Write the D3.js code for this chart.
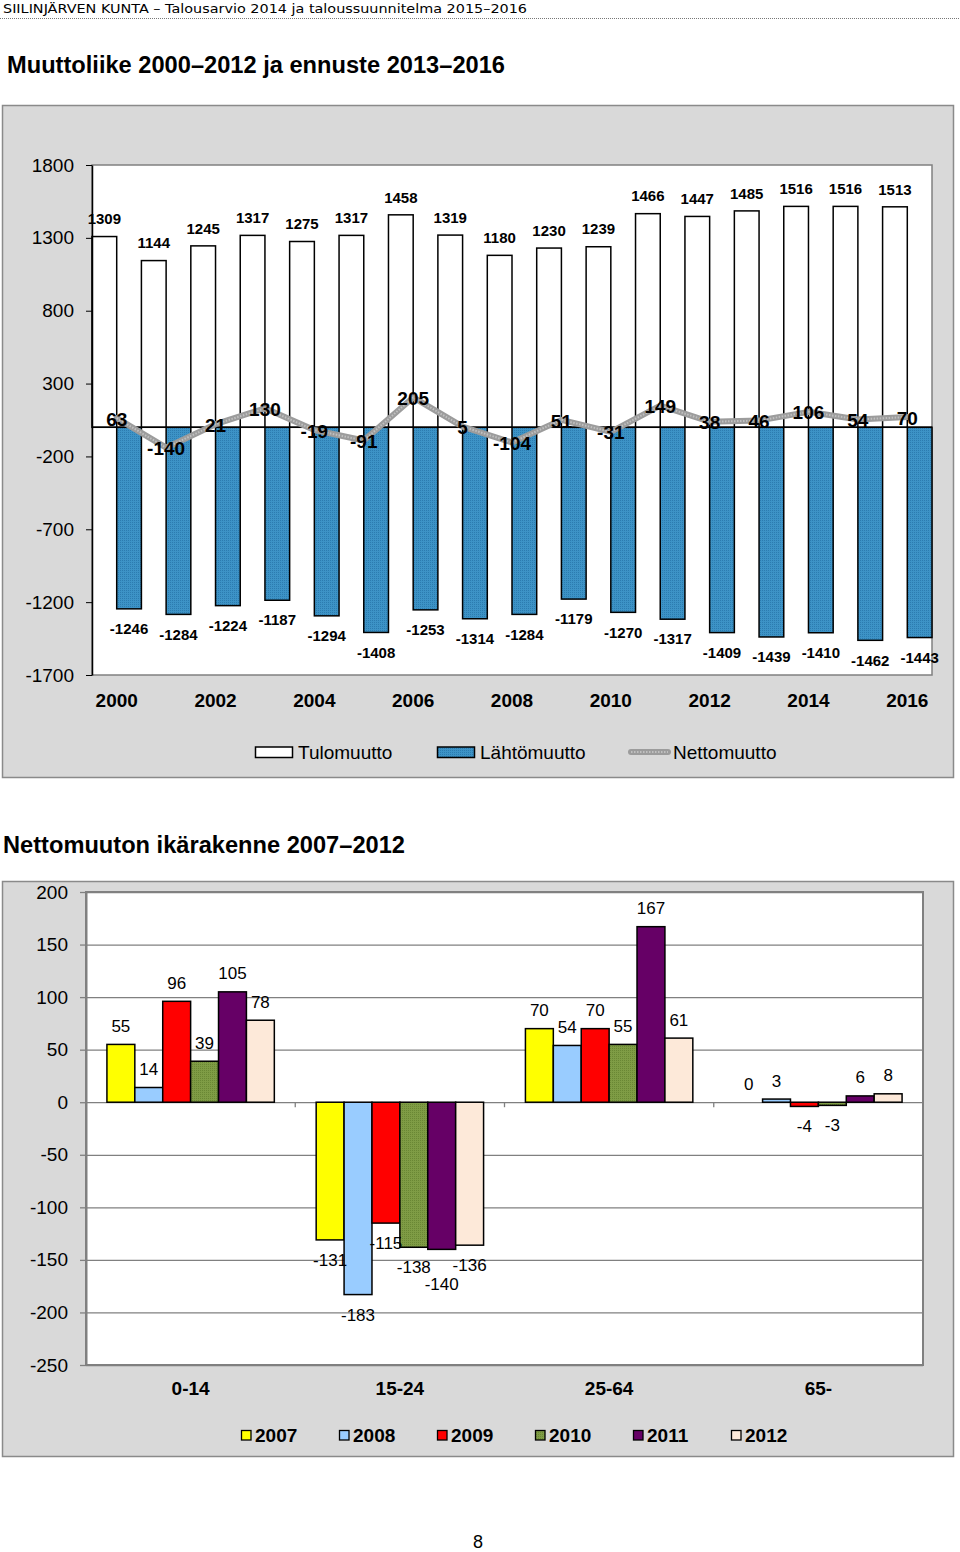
<!DOCTYPE html>
<html><head><meta charset="utf-8">
<script src="https://cdn.jsdelivr.net/npm/d3@7"></script>
<style>
html,body{margin:0;padding:0;background:#fff;}
svg{display:block;}
text{font-family:"Liberation Sans",Arial,sans-serif;fill:#000;}
</style>
</head><body>
<svg id="c" width="960" height="1552"></svg>
<script>
// ---------- data: chart 1 ----------
const years = ["2000","2001","2002","2003","2004","2005","2006","2007","2008","2009","2010","2011","2012","2013","2014","2015","2016"];
const tulomuutto = [1309,1144,1245,1317,1275,1317,1458,1319,1180,1230,1239,1466,1447,1485,1516,1516,1513];
const lahtomuutto = [-1246,-1284,-1224,-1187,-1294,-1408,-1253,-1314,-1284,-1179,-1270,-1317,-1409,-1439,-1410,-1462,-1443];
const nettomuutto = [63,-140,21,130,-19,-91,205,5,-104,51,-31,149,38,46,106,54,70];
const yTicks1 = [1800,1300,800,300,-200,-700,-1200,-1700];
const xLabels1 = ["2000","2002","2004","2006","2008","2010","2012","2014","2016"];
const legend1 = ["Tulomuutto","Lähtömuutto","Nettomuutto"];

// ---------- data: chart 2 ----------
const ageGroups = ["0-14","15-24","25-64","65-"];
const years2 = ["2007","2008","2009","2010","2011","2012"];
const v2007 = [55,-131,70,0];
const v2008 = [14,-183,54,3];
const v2009 = [96,-115,70,-4];
const v2010 = [39,-138,55,-3];
const v2011 = [105,-140,167,6];
const v2012 = [78,-136,61,8];
const yTicks2 = [200,150,100,50,0,-50,-100,-150,-200,-250];

const series2 = [v2007,v2008,v2009,v2010,v2011,v2012];
const colors2 = ["#ffff00","#99ccff","#ff0000","url(#greenTex)","#660066","#fde9d9"];
const fmt = (d)=>String(d);

const svg = d3.select("#c");
const defs = svg.append("defs");
const pb = defs.append("pattern").attr("id","blueTex").attr("width",2).attr("height",2).attr("patternUnits","userSpaceOnUse");
pb.append("rect").attr("width",2).attr("height",2).attr("fill","#3d93c6");
pb.append("rect").attr("width",1).attr("height",1).attr("fill","#2c7cb0");
const pg = defs.append("pattern").attr("id","greenTex").attr("width",2).attr("height",2).attr("patternUnits","userSpaceOnUse");
pg.append("rect").attr("width",2).attr("height",2).attr("fill","#7f9c45");
pg.append("rect").attr("width",1).attr("height",1).attr("fill","#6a8734");

svg.append("rect").attr("width",960).attr("height",1552).attr("fill","#fff");

// header
svg.append("text").attr("x",3).attr("y",13).style("font-family","'DejaVu Sans',sans-serif")
  .attr("font-size",13).attr("textLength",524).attr("lengthAdjust","spacingAndGlyphs")
  .text("SIILINJÄRVEN KUNTA – Talousarvio 2014 ja taloussuunnitelma 2015–2016");
svg.append("line").attr("x1",0).attr("x2",960).attr("y1",18.5).attr("y2",18.5)
  .attr("stroke","#777").attr("stroke-dasharray","1,1");

svg.append("text").attr("x",7).attr("y",73).attr("font-size",23).attr("font-weight","bold")
  .attr("textLength",498).attr("lengthAdjust","spacingAndGlyphs")
  .text("Muuttoliike 2000–2012 ja ennuste 2013–2016");

// ================= CHART 1 =================
const c1 = {l:92, r:932, t:165, b:675};
svg.append("rect").attr("x",2.5).attr("y",105.5).attr("width",951).attr("height",672)
  .attr("fill","#d9d9d9").attr("stroke","#8a8a8a").attr("stroke-width",1.5);
svg.append("rect").attr("x",c1.l).attr("y",c1.t).attr("width",c1.r-c1.l).attr("height",c1.b-c1.t)
  .attr("fill","#fff").attr("stroke","#808080").attr("stroke-width",1.5);

const y1 = d3.scaleLinear().domain([-1700,1800]).range([c1.b,c1.t]);
const x1 = d3.scaleBand().domain(years).range([c1.l,c1.r]).padding(0);
const xs1 = d3.scaleBand().domain(["tulo","lahto"]).range([0,x1.bandwidth()]).padding(0);

const g1 = svg.append("g");
g1.selectAll("rect.tulo").data(years).enter().append("rect")
  .attr("x",(d)=>x1(d)+xs1("tulo")).attr("width",xs1.bandwidth())
  .attr("y",(d,i)=>y1(tulomuutto[i])).attr("height",(d,i)=>y1(0)-y1(tulomuutto[i]))
  .attr("fill","#fff").attr("stroke","#000").attr("stroke-width",1.5);
g1.selectAll("rect.lahto").data(years).enter().append("rect")
  .attr("x",(d)=>x1(d)+xs1("lahto")).attr("width",xs1.bandwidth())
  .attr("y",y1(0)).attr("height",(d,i)=>y1(lahtomuutto[i])-y1(0))
  .attr("fill","url(#blueTex)").attr("stroke","#000").attr("stroke-width",1.5);

g1.append("line").attr("x1",c1.l).attr("x2",c1.r).attr("y1",y1(0)).attr("y2",y1(0))
  .attr("stroke","#000").attr("stroke-width",1.5);

const ax1 = svg.append("g").attr("transform",`translate(${c1.l},0)`)
  .call(d3.axisLeft(y1).tickValues(yTicks1).tickSize(6).tickSizeOuter(0).tickPadding(12).tickFormat(fmt));
ax1.select(".domain").attr("stroke","#000").attr("stroke-width",1.5);
ax1.selectAll(".tick line").attr("stroke","#000");
ax1.selectAll(".tick text").attr("font-size",19).attr("fill","#000").style("font-family","'Liberation Sans',Arial,sans-serif");

const cx1 = (d)=>x1(d)+x1.bandwidth()/2;
const netLine = d3.line().x((d,i)=>cx1(years[i])).y((d)=>y1(d));
g1.append("path").attr("d",netLine(nettomuutto)).attr("fill","none")
  .attr("stroke","#9c9c9c").attr("stroke-width",6).attr("stroke-linejoin","round").attr("stroke-linecap","round");
g1.append("path").attr("d",netLine(nettomuutto)).attr("fill","none")
  .attr("stroke","#c0c0c0").attr("stroke-width",2).attr("stroke-dasharray","1.5,1.5");

// labels
g1.selectAll("text.tl").data(years).enter().append("text")
  .attr("x",(d)=>x1(d)+xs1("tulo")+xs1.bandwidth()/2).attr("y",(d,i)=>y1(tulomuutto[i])-17.5)
  .attr("dy","0.35em").attr("text-anchor","middle").attr("font-size",15).attr("font-weight","bold")
  .text((d,i)=>tulomuutto[i]);
g1.selectAll("text.ll").data(years).enter().append("text")
  .attr("x",(d)=>x1(d)+xs1("lahto")+xs1.bandwidth()/2).attr("y",(d,i)=>y1(lahtomuutto[i])+20)
  .attr("dy","0.35em").attr("text-anchor","middle").attr("font-size",15).attr("font-weight","bold")
  .text((d,i)=>lahtomuutto[i]);
g1.selectAll("text.nl").data(years).enter().append("text")
  .attr("x",(d)=>cx1(d)).attr("y",(d,i)=>y1(nettomuutto[i])+1)
  .attr("dy","0.35em").attr("text-anchor","middle").attr("font-size",19).attr("font-weight","bold")
  .text((d,i)=>nettomuutto[i]);

g1.selectAll("text.xl").data(xLabels1).enter().append("text")
  .attr("x",(d)=>cx1(d)).attr("y",700).attr("dy","0.35em").attr("text-anchor","middle")
  .attr("font-size",19).attr("font-weight","bold").text((d)=>d);

// legend 1
const lg1 = svg.append("g");
lg1.append("rect").attr("x",255.5).attr("y",747).attr("width",37).attr("height",10.5)
  .attr("fill","#fff").attr("stroke","#000").attr("stroke-width",1.5);
lg1.append("text").attr("x",298).attr("y",752).attr("dy","0.35em").attr("font-size",19).text(legend1[0]);
lg1.append("rect").attr("x",437.5).attr("y",747).attr("width",37).attr("height",10.5)
  .attr("fill","url(#blueTex)").attr("stroke","#000").attr("stroke-width",1.5);
lg1.append("text").attr("x",480).attr("y",752).attr("dy","0.35em").attr("font-size",19).text(legend1[1]);
lg1.append("line").attr("x1",631).attr("x2",668).attr("y1",752).attr("y2",752)
  .attr("stroke","#9c9c9c").attr("stroke-width",6).attr("stroke-linecap","round");
lg1.append("line").attr("x1",631).attr("x2",668).attr("y1",752).attr("y2",752)
  .attr("stroke","#c0c0c0").attr("stroke-width",2).attr("stroke-dasharray","1.5,1.5");
lg1.append("text").attr("x",673).attr("y",752).attr("dy","0.35em").attr("font-size",19).text(legend1[2]);

// ================= CHART 2 =================
svg.append("text").attr("x",3).attr("y",853).attr("font-size",23).attr("font-weight","bold")
  .attr("textLength",402).attr("lengthAdjust","spacingAndGlyphs")
  .text("Nettomuuton ikärakenne 2007–2012");

const c2 = {l:86, r:923, t:892, b:1365};
svg.append("rect").attr("x",2.5).attr("y",881.5).attr("width",951).attr("height",575)
  .attr("fill","#d9d9d9").attr("stroke","#8a8a8a").attr("stroke-width",1.5);
svg.append("rect").attr("x",c2.l).attr("y",c2.t).attr("width",c2.r-c2.l).attr("height",c2.b-c2.t)
  .attr("fill","#fff");

const y2 = d3.scaleLinear().domain([-250,200]).range([c2.b,c2.t]);
const x2 = d3.scaleBand().domain(ageGroups).range([c2.l,c2.r]).padding(0);
const xs2 = d3.scaleBand().domain(years2).range([0,x2.bandwidth()]).paddingInner(0).paddingOuter(0.75);

const grid = svg.append("g").attr("transform",`translate(${c2.l},0)`)
  .call(d3.axisLeft(y2).tickValues(yTicks2).tickSize(-(c2.r-c2.l)).tickSizeOuter(0).tickFormat(""));
grid.select(".domain").remove();
grid.selectAll(".tick line").attr("stroke","#808080").attr("stroke-width",1.3);

svg.append("rect").attr("x",c2.l).attr("y",c2.t).attr("width",c2.r-c2.l).attr("height",c2.b-c2.t)
  .attr("fill","none").attr("stroke","#808080").attr("stroke-width",2);

// category ticks on the zero line
svg.append("g").selectAll("line").data(ageGroups.slice(1)).enter().append("line")
  .attr("x1",(d)=>x2(d)).attr("x2",(d)=>x2(d)).attr("y1",y2(0)).attr("y2",y2(0)+5)
  .attr("stroke","#808080").attr("stroke-width",1.3);

const g2 = svg.append("g");
series2.forEach((vals,si)=>{
  g2.selectAll(null).data(ageGroups.filter((d,i)=>vals[i]!==0)).enter().append("rect")
    .attr("x",(d)=>x2(d)+xs2(years2[si])).attr("width",xs2.bandwidth())
    .attr("y",(d)=>y2(Math.max(0,vals[ageGroups.indexOf(d)])))
    .attr("height",(d)=>Math.abs(y2(vals[ageGroups.indexOf(d)])-y2(0)))
    .attr("fill",colors2[si]).attr("stroke","#000").attr("stroke-width",1.5);
});

const ax2 = svg.append("g").attr("transform",`translate(${c2.l},0)`)
  .call(d3.axisLeft(y2).tickValues(yTicks2).tickSize(6).tickSizeOuter(0).tickPadding(12).tickFormat(fmt));
ax2.select(".domain").attr("stroke","#808080").attr("stroke-width",2);
ax2.selectAll(".tick line").attr("stroke","#808080").attr("stroke-width",1.3);
ax2.selectAll(".tick text").attr("font-size",19).attr("fill","#000").style("font-family","'Liberation Sans',Arial,sans-serif");

// data labels with simple collision avoidance
const placed = [];
const fs2 = 17;
ageGroups.forEach((grp,gi)=>{
  series2.forEach((vals,si)=>{
    const v = vals[gi];
    const cx = x2(grp)+xs2(years2[si])+xs2.bandwidth()/2;
    let cy = v >= 0 ? y2(v)-18.5 : y2(v)+20;
    const w = String(v).length*fs2*0.55;
    let moved = true;
    while(moved){
      moved = false;
      for(const p of placed){
        if(Math.abs(p.cx-cx) < (p.w+w)/2 - 1 && Math.abs(p.cy-cy) < fs2*0.85){
          cy += v >= 0 ? -fs2*0.85 : fs2*0.85; moved = true;
        }
      }
    }
    placed.push({cx,cy,w});
    g2.append("text").attr("x",cx).attr("y",cy).attr("dy","0.35em").attr("text-anchor","middle")
      .attr("font-size",fs2).text(v);
  });
});

svg.append("g").selectAll("text").data(ageGroups).enter().append("text")
  .attr("x",(d)=>x2(d)+x2.bandwidth()/2).attr("y",1388).attr("dy","0.35em").attr("text-anchor","middle")
  .attr("font-size",19).attr("font-weight","bold").text((d)=>d);

// legend 2
const lg2 = svg.append("g");
years2.forEach((yr,i)=>{
  const lx = 241 + i*98;
  lg2.append("rect").attr("x",lx+0.5).attr("y",1430.5).attr("width",9.5).attr("height",9.5)
    .attr("fill",colors2[i]).attr("stroke","#000").attr("stroke-width",1.3);
  lg2.append("text").attr("x",lx+14).attr("y",1435.5).attr("dy","0.35em")
    .attr("font-size",19).attr("font-weight","bold").text(yr);
});

svg.append("text").attr("x",478).attr("y",1542).attr("dy","0.35em").attr("text-anchor","middle")
  .attr("font-size",18).text("8");
</script>
</body></html>
